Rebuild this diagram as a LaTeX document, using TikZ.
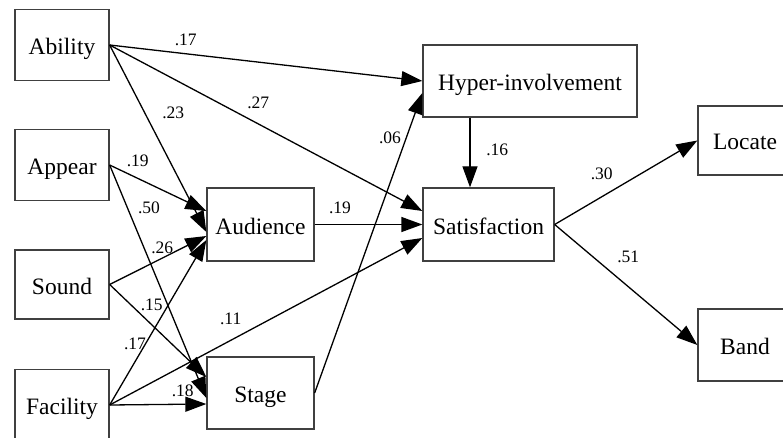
\documentclass[tikz,border=0pt]{standalone}
\usepackage{fontspec}
\setmainfont{Liberation Serif}
\usetikzlibrary{arrows.meta}
\begin{document}
\begin{tikzpicture}[x=1pt,y=-1pt,
  var/.style={draw=black!75, line width=1.3pt, rectangle, inner sep=0pt,
    minimum height=71pt, font=\fontsize{23.5}{28}\selectfont,
    text height=19pt, text depth=0pt},
  effect/.style={draw=black, line width=1.3pt,
    -{Triangle[length=21pt,width=15pt]}},
  coef/.style={anchor=base, inner sep=0pt, font=\fontsize{17.5}{20}\selectfont}]
\useasboundingbox (0,0) rectangle (783,438);

% variables
\node[var, minimum width=94pt] (ability) at (62,45) {Ability};
\node[var, minimum width=94pt] (appear) at (62,165) {Appear};
\node[var, minimum width=94pt, minimum height=69pt] (sound) at (62,284.5) {Sound};
\node[var, minimum width=94pt] (facility) at (62,405) {Facility};
\node[var, minimum width=107pt, minimum height=73pt] (audience) at (260.5,224.5) {Audience};
\node[var, minimum width=107pt, minimum height=72pt] (stage) at (260.5,393) {Stage};
\node[var, minimum width=214pt, minimum height=72pt] (hyper) at (530,81) {Hyper-involvement};
\node[var, minimum width=131pt, minimum height=73pt] (sat) at (488.5,224.5) {Satisfaction};
\node[var, minimum width=94pt, minimum height=69pt] (locate) at (745,140.5) {Locate};
\node[var, minimum width=94pt, minimum height=72pt] (band) at (745,345) {Band};

% paths
\draw[effect] (ability.east) -- (hyper.west);
\draw[effect] (ability.east) -- ([yshift=-7.5pt]audience.west);
\draw[effect] (ability.east) -- ([yshift=13.5pt]sat.west);
\draw[effect] (appear.east) -- ([yshift=13.5pt]audience.west);
\draw[effect] (appear.east) -- ([yshift=-5pt]stage.west);
\draw[effect] (sound.east) -- ([yshift=-11.5pt]audience.west);
\draw[effect] (sound.east) -- ([yshift=16pt]stage.west);
\draw[effect] (facility.east) -- ([yshift=-15.5pt]audience.west);
\draw[effect] (facility.east) -- ([yshift=-11pt]stage.west);
\draw[effect] (facility.east) -- ([yshift=-13.5pt]sat.west);
\draw[effect] (stage.east) -- ([yshift=-12pt]hyper.west);
\draw[effect] (audience.east) -- (sat.west);
\draw[effect] ([xshift=-60pt]hyper.south) -- ([xshift=-18.5pt]sat.north);
\draw[effect] (sat.east) -- (locate.west);
\draw[effect] (sat.east) -- (band.west);

% coefficients
\node[coef] (c1) at (185.7,46) {.17};
\node[coef] (c2) at (173.3,118.3) {.23};
\node[coef] (c3) at (258.3,109) {.27};
\node[coef] (c4) at (137.7,166.7) {.19};
\node[coef] (c5) at (149,213.3) {.50};
\node[coef] (c6) at (340,213.3) {.19};
\node[coef] (c7) at (390,143.3) {.06};
\node[coef] (c8) at (162.3,253.3) {.26};
\node[coef] (c9) at (151.7,310) {.15};
\node[coef] (c10) at (230.7,324) {.11};
\node[coef] (c11) at (135,349) {.17};
\node[coef] (c12) at (182.7,396.7) {.18};
\node[coef] (c13) at (497.3,156) {.16};
\node[coef] (c14) at (601.7,180) {.30};
\node[coef] (c15) at (628.3,262.3) {.51};
\end{tikzpicture}
\end{document}
